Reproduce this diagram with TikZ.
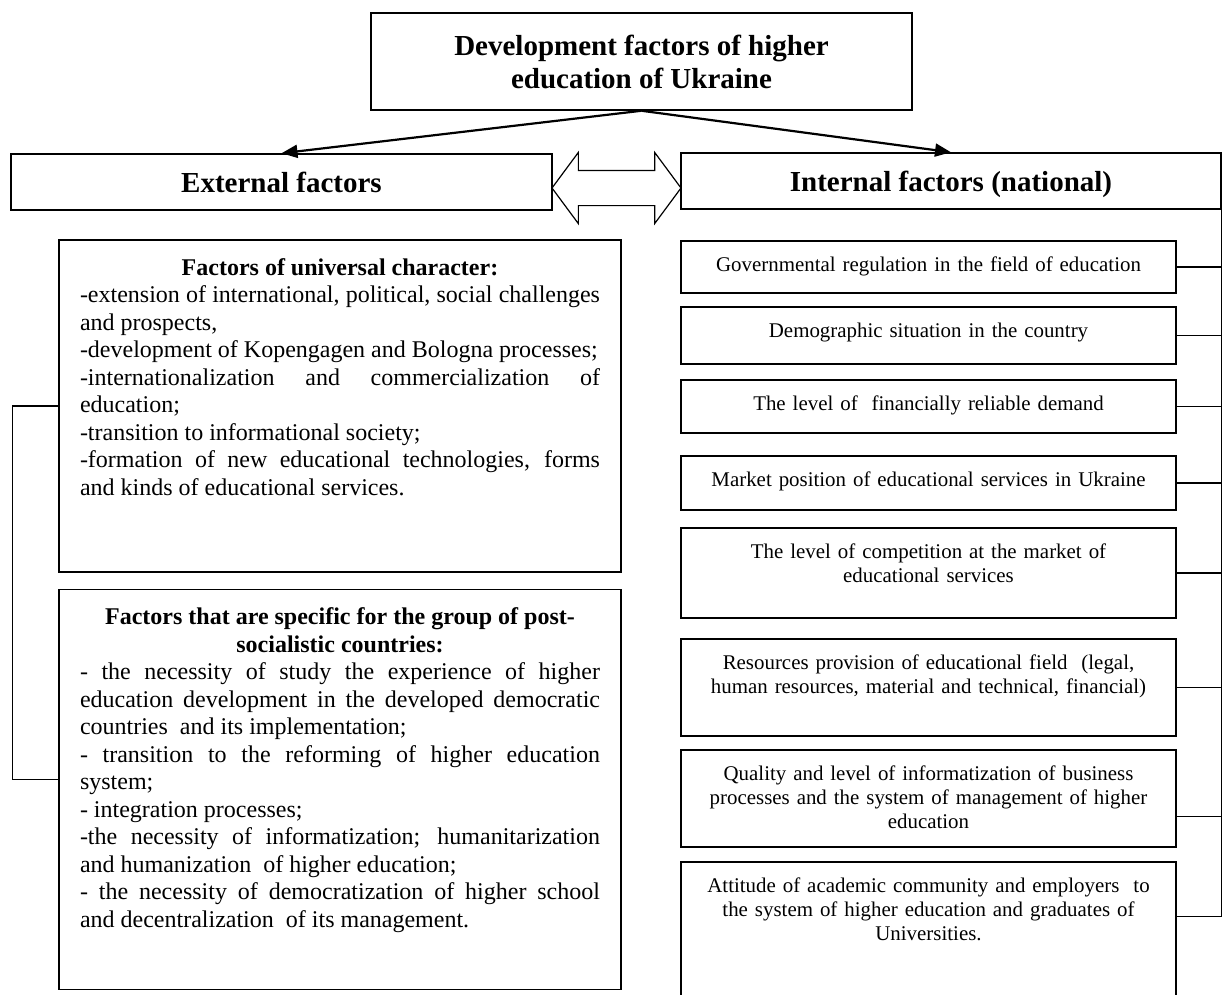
\documentclass[tikz,border=0pt]{standalone}
\usepackage{fontspec}
\setmainfont{Liberation Serif}
\usetikzlibrary{positioning}
\usetikzlibrary{arrows.meta}
\usetikzlibrary{shapes.arrows}

\newcommand\bigbold{\bfseries\fontsize{29}{33}\selectfont}
\newcommand\leftsize{\fontsize{24}{27.5}\selectfont}
\newcommand\rightsize{\fontsize{20.9}{24}\selectfont}
\tolerance=10000
\hyphenpenalty=10000
\hbadness=10000

\begin{document}
\begin{tikzpicture}[x=1pt, y=-1pt,
    headbox/.style={rectangle, draw, line width=1.5pt, font=\bigbold, align=center},
    groupbox/.style={rectangle, draw, line width=1.5pt, font=\leftsize, align=justify, text width=520pt, inner xsep=21pt, inner ysep=18pt, text height=17pt},
    factorbox/.style={rectangle, draw, line width=1.5pt, font=\rightsize, align=center, text width=470pt, inner xsep=12.5pt, inner ysep=15pt, text height=15pt},
    link/.style={line width=1.5pt},
    arrow/.style={line width=2.2pt, -{Triangle[length=16pt, width=13pt]}}]

    \useasboundingbox (0,0) rectangle (1222,994);

    % Headers
    \node[headbox, minimum width=541pt, minimum height=97pt] (top) at (641.5,61.5) {Development factors of higher\\education of Ukraine};
    \node[headbox, minimum width=541pt, minimum height=56pt] (external) at (281.5,182) {External factors};
    \node[headbox, minimum width=540pt, minimum height=56pt, text depth=0pt] (internal) at (951,181) {Internal factors (national)};
    \node[double arrow, draw, line width=1.2pt, inner sep=0pt, text height=17pt, text depth=17pt, minimum height=129pt, minimum width=70pt, double arrow head extend=18pt, double arrow tip angle=107] (exchange) at (616.5,188) {};

    % External groups
    \node[groupbox, text depth=279pt] (universal) at (340,406) {{\centering\bfseries Factors of universal character:\par}
      -extension of international, political, social challenges\linebreak
      and prospects,\par
      -development of Kopengagen and Bologna processes;\par
      -internationalization and commercialization of\linebreak
      education;\par
      -transition to informational society;\par
      -formation of new educational technologies, forms\linebreak
      and kinds of educational services.};
    \node[groupbox, text depth=347pt, below=16pt of universal] (specific) {{\centering\bfseries Factors that are specific for the group of post-\\socialistic countries:\par}
      - the necessity of study the experience of higher\linebreak
      education development in the developed democratic\linebreak
      countries\ \ and its implementation;\par
      - transition to the reforming of higher education\linebreak
      system;\par
      - integration processes;\par
      -the necessity of informatization; humanitarization\linebreak
      and humanization\ \ of higher education;\par
      - the necessity of democratization of higher school\linebreak
      and decentralization\ \ of its management.};

    % Internal factors
    \node[factorbox, text depth=7pt] (regulation) at (928.5,267) {Governmental regulation in the field of education};
    \node[factorbox, text depth=12pt, below=12.5pt of regulation] (demography) {Demographic situation in the country};
    \node[factorbox, text depth=8pt, below=14.5pt of demography] (demand) {The level of\ \ financially reliable demand};
    \node[factorbox, text depth=9pt, below=21.5pt of demand] (market) {Market position of educational services in Ukraine};
    \node[factorbox, text depth=45pt, below=16.5pt of market] (competition) {The level of competition at the market of\\educational services};
    \node[factorbox, text depth=52pt, below=19.5pt of competition] (resources) {Resources provision of educational field\ \ (legal,\\human resources, material and technical, financial)};
    \node[factorbox, text depth=52pt, below=12.5pt of resources] (quality) {Quality and level of informatization of business\\processes and the system of management of higher\\education};
    \node[factorbox, text depth=105pt, below=13.5pt of quality] (attitude) {Attitude of academic community and employers\ \ to\\the system of higher education and graduates of\\Universities.};

    \coordinate (qualitypin) at ([yshift=-18pt]quality.east);
    \coordinate (attitudepin) at ([yshift=-55pt]attitude.north east);

    % Arrows
    \draw[arrow] (top.south) -- (external.north);
    \draw[arrow] (top.south) -- (internal.north);

    % Links
    \draw[link] (universal.west) -- ++(-46,0) |- ([yshift=10pt]specific.west);
    \draw[link] (internal.south east) -- (attitudepin -| internal.east);
    \draw[link] (regulation.east) -- (regulation.east -| internal.east);
    \draw[link] (demography.east) -- (demography.east -| internal.east);
    \draw[link] (demand.east) -- (demand.east -| internal.east);
    \draw[link] (market.east) -- (market.east -| internal.east);
    \draw[link] (competition.east) -- (competition.east -| internal.east);
    \draw[link] (resources.east) -- (resources.east -| internal.east);
    \draw[link] (qualitypin) -- (qualitypin -| internal.east);
    \draw[link] (attitudepin) -- (attitudepin -| internal.east);

\end{tikzpicture}
\end{document}
